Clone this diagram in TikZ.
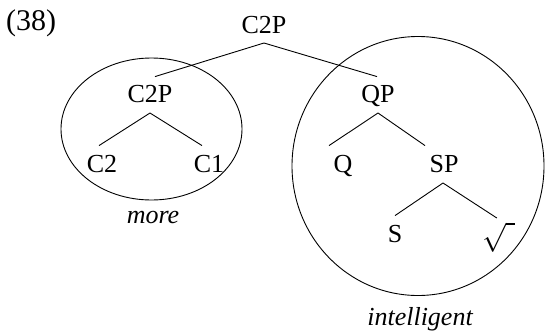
\documentclass[tikz,border=0pt]{standalone}
\usepackage{fix-cm}
\usepackage{amsmath}
\usepackage{fontspec}
\setmainfont{Liberation Serif}
\begin{document}
\begin{tikzpicture}[x=1pt,y=-1pt,
  lab/.style={font=\fontsize{26}{30}\selectfont, inner sep=0pt, anchor=base},
  edge/.style={line width=0.9pt},
  ring/.style={line width=0.9pt}]
\useasboundingbox (0,0) rectangle (545,332);
% enclosing shapes
\draw[ring] (151.5,129) ellipse [x radius=90.5, y radius=71];
\draw[ring] (418,166) ellipse [x radius=126, y radius=129.5];
% labels
\node[lab, font=\fontsize{30}{34}\selectfont, anchor=base west] (ex) at (6,30) {(38)};
\node[lab] (top) at (264,33) {C2P};
\node[lab] (c2p) at (150,102) {C2P};
\node[lab] (qp) at (378,102) {QP};
\node[lab] (c2) at (102,172) {C2};
\node[lab] (c1) at (209,172) {C1};
\node[lab] (q) at (343,172) {Q};
\node[lab] (sp) at (444,172) {SP};
\node[lab] (s) at (395,242) {S};
\node[lab, font=\fontsize{29}{32}\selectfont, anchor=north west] (rt) at (482,222) {$\sqrt{\hphantom{l}}$};
\node[lab, font=\fontsize{26}{30}\selectfont\itshape] (more) at (153,223) {more};
\node[lab, font=\fontsize{26}{30}\selectfont\itshape] (intel) at (420,325) {intelligent};
% branches
\draw[edge] ([yshift=-10pt]top.base) -- ([xshift=5pt,yshift=8pt]c2p.north);
\draw[edge] ([yshift=-10pt]top.base) -- ([xshift=-1pt,yshift=8pt]qp.north);
\draw[edge] ([yshift=-11pt]c2p.base) -- ([xshift=-3pt,yshift=9pt]c2.north);
\draw[edge] ([yshift=-11pt]c2p.base) -- ([xshift=-7pt,yshift=9pt]c1.north);
\draw[edge] ([yshift=-11pt]qp.base) -- ([xshift=-14pt,yshift=9pt]q.north);
\draw[edge] ([yshift=-11pt]qp.base) -- ([xshift=-19pt,yshift=9pt]sp.north);
\draw[edge] ([xshift=-1pt,yshift=-11pt]sp.base) -- ([yshift=9pt]s.north);
\draw[edge] ([xshift=-1pt,yshift=-11pt]sp.base) -- ([xshift=-2pt,yshift=4pt]rt.north);
\end{tikzpicture}
\end{document}
